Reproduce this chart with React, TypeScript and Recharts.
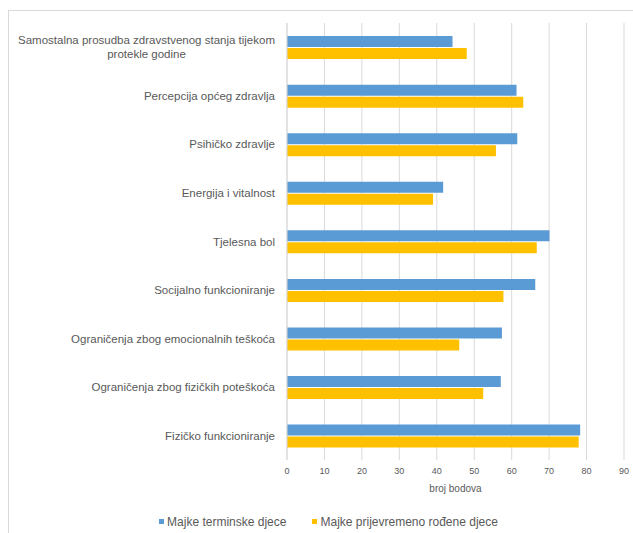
import React from "react";
import { BarChart, Bar, XAxis, YAxis, CartesianGrid, Legend } from "recharts";

const categories = [
  "Samostalna prosudba zdravstvenog stanja tijekom protekle godine",
  "Percepcija općeg zdravlja",
  "Psihičko zdravlje",
  "Energija i vitalnost",
  "Tjelesna bol",
  "Socijalno funkcioniranje",
  "Ograničenja zbog emocionalnih teškoća",
  "Ograničenja zbog fizičkih poteškoća",
  "Fizičko funkcioniranje",
];
const termValues = [44.2, 61.3, 61.5, 41.7, 70.1, 66.3, 57.4, 57.1, 78.3];
const pretermValues = [48.0, 63.1, 55.8, 39.0, 66.7, 57.8, 46.0, 52.4, 77.9];
const xTicks = [0, 10, 20, 30, 40, 50, 60, 70, 80, 90];
const seriesNames = ["Majke terminske djece", "Majke prijevremeno rođene djece"];
const xLabel = "broj bodova";

const data = categories.map((c, i) => ({
  name: c,
  term: termValues[i],
  preterm: pretermValues[i],
}));

const FONT = "'Liberation Sans', Arial, sans-serif";
const TEXT = "#595959";
const BLUE = "#5B9BD5";
const YELLOW = "#FFC000";
const YFS = 11.5;

let ctx: CanvasRenderingContext2D | null = null;
function measure(s: string): number {
  if (!ctx) {
    const c = document.createElement("canvas");
    ctx = c.getContext("2d");
  }
  if (!ctx) return s.length * 6;
  ctx.font = `${YFS}px ${FONT}`;
  return ctx.measureText(s).width;
}

function wrap(s: string, maxW: number): string[] {
  const words = s.split(" ");
  const lines: string[] = [];
  let cur = "";
  for (const w of words) {
    const t = cur ? cur + " " + w : w;
    if (measure(t) > maxW && cur) {
      lines.push(cur);
      cur = w;
    } else cur = t;
  }
  if (cur) lines.push(cur);
  return lines;
}

const YTick = (props: any) => {
  const { x, y, payload } = props;
  const lines = wrap(String(payload.value), 265);
  if (lines.length === 1) {
    return (
      <text x={x} y={y} dy={4} textAnchor="end" fill={TEXT} fontSize={YFS} fontFamily={FONT}>
        {lines[0]}
      </text>
    );
  }
  const maxW = Math.max(...lines.map(measure));
  const cx = x - maxW / 2;
  const lh = 14;
  const startY = y - ((lines.length - 1) * lh) / 2 + 4;
  return (
    <text x={cx} y={startY} textAnchor="middle" fill={TEXT} fontSize={YFS} fontFamily={FONT}>
      {lines.map((l, i) => (
        <tspan key={i} x={cx} dy={i === 0 ? 0 : lh}>
          {l}
        </tspan>
      ))}
    </text>
  );
};

const XTick = (props: any) => {
  const { x, y, payload } = props;
  return (
    <text x={x} y={y} dy={6} textAnchor="middle" fill={TEXT} fontSize={9} fontFamily={FONT}>
      {payload.value}
    </text>
  );
};

const LegendContent = () => (
  <div
    style={{
      display: "flex",
      justifyContent: "center",
      alignItems: "center",
      fontFamily: FONT,
      fontSize: 12,
      color: TEXT,
      paddingLeft: 16,
      height: 33,
    }}
  >
    {[BLUE, YELLOW].map((col, i) => (
      <div key={i} style={{ display: "flex", alignItems: "center", marginRight: i === 0 ? 26 : 0 }}>
        <span style={{ display: "inline-block", width: 5, height: 5, background: col, marginRight: 3 }} />
        <span>{seriesNames[i]}</span>
      </div>
    ))}
  </div>
);

export default function App() {
  return (
    <div style={{ padding: "10px 0 0 8px", width: 633, height: 533, boxSizing: "border-box" }}>
      <style>{"body{margin:0} .recharts-surface{overflow:visible}"}</style>
      <div
        style={{
          position: "relative",
          width: 625,
          height: 523,
          borderTop: "1px solid #d9d9d9",
          borderLeft: "1px solid #d9d9d9",
          boxSizing: "border-box",
        }}
      >
        <BarChart
          width={623}
          height={522}
          data={data}
          layout="vertical"
          margin={{ top: 12, right: 8, bottom: 0, left: 0 }}
          barCategoryGap="27%"
          barGap={1}
        >
          <CartesianGrid horizontal={false} stroke="#d9d9d9" />
          <XAxis
            type="number"
            domain={[0, 90]}
            ticks={xTicks}
            axisLine={false}
            tickLine={false}
            height={40}
            tick={<XTick />}
            tickMargin={2}
            interval={0}
            label={{ value: xLabel, position: "insideBottom", offset: 8, fill: TEXT, fontSize: 10, fontFamily: FONT }}
          />
          <YAxis
            type="category"
            dataKey="name"
            width={278}
            axisLine={{ stroke: "#d9d9d9" }}
            tickLine={false}
            tick={<YTick />}
            tickMargin={6}
            interval={0}
          />
          <Legend
            verticalAlign="bottom"
            height={33}
            content={<LegendContent />}
            wrapperStyle={{ position: "absolute", top: 494, left: 0, width: 623, height: 33 }}
          />
          <Bar dataKey="term" name={seriesNames[0]} fill={BLUE} isAnimationActive={false} />
          <Bar dataKey="preterm" name={seriesNames[1]} fill={YELLOW} isAnimationActive={false} />
        </BarChart>
      </div>
    </div>
  );
}
